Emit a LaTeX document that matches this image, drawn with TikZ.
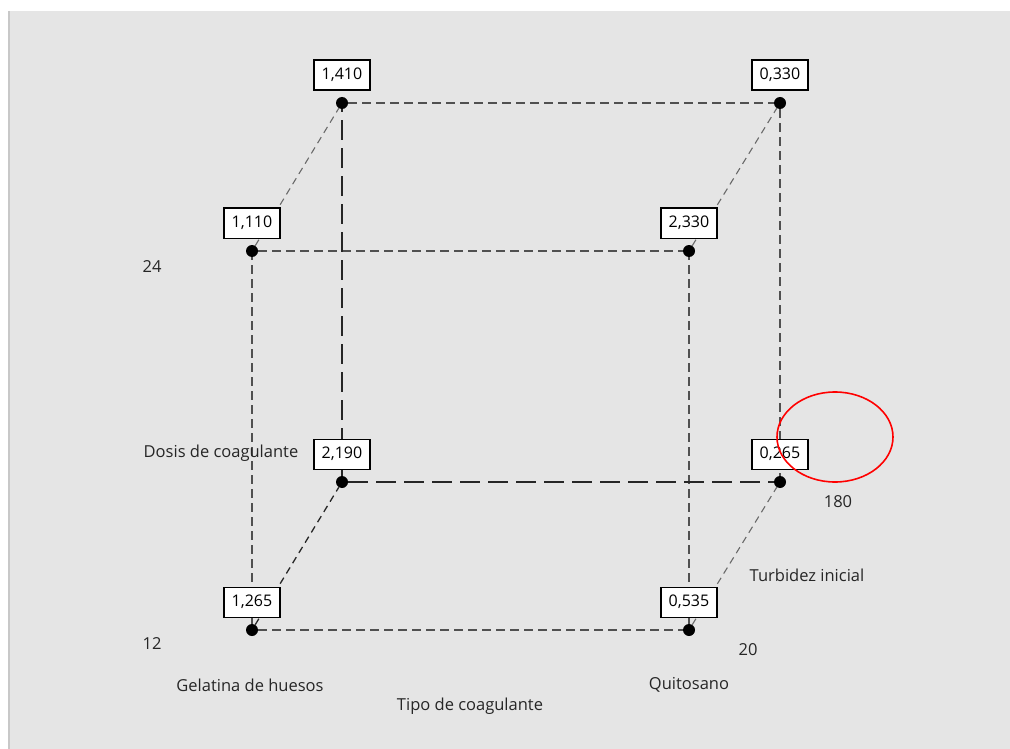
\documentclass[tikz,border=0pt]{standalone}
\usepackage{fontspec}
\setmainfont{Open Sans}
\usetikzlibrary{positioning}

\definecolor{panel}{HTML}{E5E5E5}
\definecolor{panelrim}{HTML}{C8C8C8}
\definecolor{edgegray}{HTML}{505050}

\tikzset{
  corner/.style={circle, fill=black, inner sep=0pt, minimum size=12pt},
  val/.style={draw=black, line width=1.3pt, fill=white, inner sep=0pt,
    minimum width=56pt, minimum height=30pt, font=\fontsize{16}{16}\selectfont},
  front/.style={edgegray, line width=1.2pt, dash pattern=on 9pt off 5pt},
  hidden/.style={black!85, line width=1.6pt, dash pattern=on 20pt off 8pt},
  depth/.style={edgegray!85, line width=1.1pt, dash pattern=on 7pt off 5pt},
  lbl/.style={text=black!85, font=\fontsize{16.5}{16.5}\selectfont, inner sep=0pt}
}

\begin{document}
\begin{tikzpicture}[x=1pt, y=-1pt]

  \useasboundingbox (0,0) rectangle (1010,749);
  \fill[panel] (8,11) rectangle (1010,749);
  \draw[panelrim, line width=2pt] (9,11) -- (9,749);

  % Define corners
  \node[corner] (gl) at (252,630) {};
  \node[corner] (ql) at (689,630) {};
  \node[corner] (gh) at (252,251) {};
  \node[corner] (qh) at (689,251) {};
  \node[corner] (glb) at (342,482) {};
  \node[corner] (qlb) at (780,482) {};
  \node[corner] (ghb) at (342,103) {};
  \node[corner] (qhb) at (780,103) {};

  % Connect the corners
  \draw[front] (gl) -- (ql);
  \draw[front] (gl) -- (gh);
  \draw[front] (ql) -- (qh);
  \draw[front] (gh) -- (qh);
  \draw[front] (ghb) -- (qhb);
  \draw[front] (qhb) -- (qlb);
  \draw[hidden] (glb) -- (qlb);
  \draw[hidden] (glb) -- (ghb);
  \draw[depth] (gh) -- (ghb);
  \draw[depth] (qh) -- (qhb);
  \draw[depth] (ql) -- (qlb);
  \draw[depth, black!85, line width=1.3pt] (gl) -- (glb);

  % Values
  \node[val, above=6pt of gl] (vgl) {1,265};
  \node[val, above=6pt of ql] (vql) {0,535};
  \node[val, above=6pt of gh] (vgh) {1,110};
  \node[val, above=6pt of qh] (vqh) {2,330};
  \node[val, above=6pt of glb] (vglb) {2,190};
  \node[val, above=6pt of qlb] (vqlb) {0,265};
  \node[val, above=6pt of ghb] (vghb) {1,410};
  \node[val, above=6pt of qhb] (vqhb) {0,330};

  % Axis labels
  \node[lbl] (d24) at (152,267) {24};
  \node[lbl] (d12) at (152,644) {12};
  \node[lbl] (dosis) at (221,453) {Dosis de coagulante};
  \node[lbl] (gel) at (250,685) {Gelatina de huesos};
  \node[lbl] (qui) at (689,685) {Quitosano};
  \node[lbl] (tipo) at (470,706) {Tipo de coagulante};
  \node[lbl] (t20) at (748,650) {20};
  \node[lbl] (t180) at (838,502) {180};
  \node[lbl] (turb) at (807,575) {Turbidez inicial};

  % Mark
  \draw[red, line width=1.6pt] (835,437) ellipse [x radius=58pt, y radius=45pt];

\end{tikzpicture}
\end{document}
